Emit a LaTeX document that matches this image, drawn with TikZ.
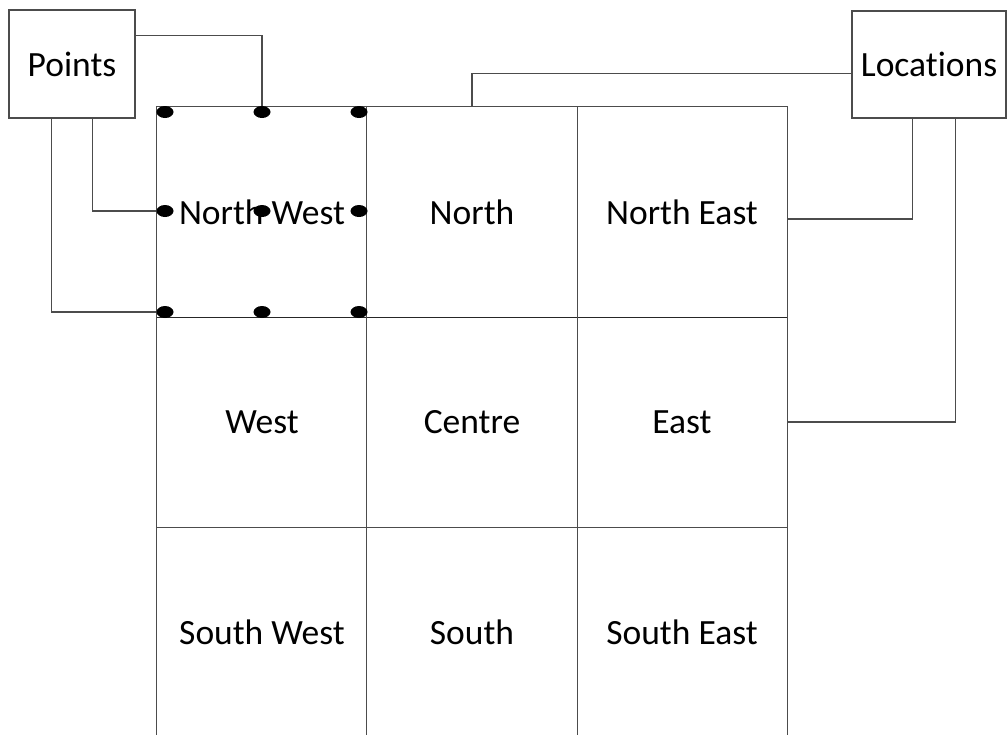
\documentclass[tikz,border=0pt]{standalone}
\usepackage{fontspec}
\setmainfont[Ligatures=NoCommon]{Carlito}
\usetikzlibrary{shapes.geometric}
\begin{document}
\begin{tikzpicture}[x=1pt,y=1pt,
  every node/.style={font=\fontsize{35.5}{40}\selectfont},
  cell/.style={draw=none,minimum width=210pt,minimum height=210pt,inner sep=0pt},
  lbl/.style={draw=black!70,line width=1.2pt,inner sep=0pt,fill=white},
  dot/.style={ellipse,fill=black,minimum width=17pt,minimum height=12pt,inner sep=0pt},
  gridline/.style={draw=black!70,line width=1.3pt},
  conn/.style={draw=black!70,line width=1.1pt}]
\useasboundingbox (0,0) rectangle (1008,-734);
% cells
\node[cell] (nw) at (262,-212) {North West};
\node[cell] (n)  at (472,-212) {North};
\node[cell] (ne) at (682,-212) {North East};
\node[cell] (w)  at (262,-422) {West};
\node[cell] (c)  at (472,-422) {Centre};
\node[cell] (e)  at (682,-422) {East};
\node[cell] (sw) at (262,-632) {South West};
\node[cell] (s)  at (472,-632) {South};
\node[cell] (se) at (682,-632) {South East};
% grid
\draw[gridline] (sw.south west) -- (nw.north west) -- (ne.north east) -- (se.south east);
\draw[gridline,draw=black!85] (nw.south west) -- (ne.south east);
\draw[gridline] (w.south west) -- (e.south east);
\draw[gridline] (n.north west) -- (s.south west);
\draw[gridline] (n.north east) -- (s.south east);
% label boxes
\node[lbl,minimum width=126pt,minimum height=108pt] (points) at (72,-64) {Points};
\node[lbl,minimum width=154pt,minimum height=107pt] (locs) at (929,-64.5) {Locations};
% dots
\node[dot] (d1) at (165,-112) {};
\node[dot] (d2) at (262,-112) {};
\node[dot] (d3) at (359,-112) {};
\node[dot] (d4) at (165,-211) {};
\node[dot] (d5) at (262,-211) {};
\node[dot] (d6) at (359,-211) {};
\node[dot] (d7) at (165,-312) {};
\node[dot] (d8) at (262,-312) {};
\node[dot] (d9) at (359,-312) {};
% Points connectors
\draw[conn] ([yshift=-26pt]points.north east) -| (d2.north);
\draw[conn] ([xshift=84pt]points.south west) |- (d4.west);
\draw[conn] ([xshift=43pt]points.south west) |- (d7.west);
% Locations connectors
\draw[conn] ([yshift=-63pt]locs.north west) -| (n.north);
\draw[conn] ([xshift=61pt]locs.south west) |- ([yshift=-7pt]ne.east);
\draw[conn] ([xshift=104pt]locs.south west) |- (e.east);
\end{tikzpicture}
\end{document}
